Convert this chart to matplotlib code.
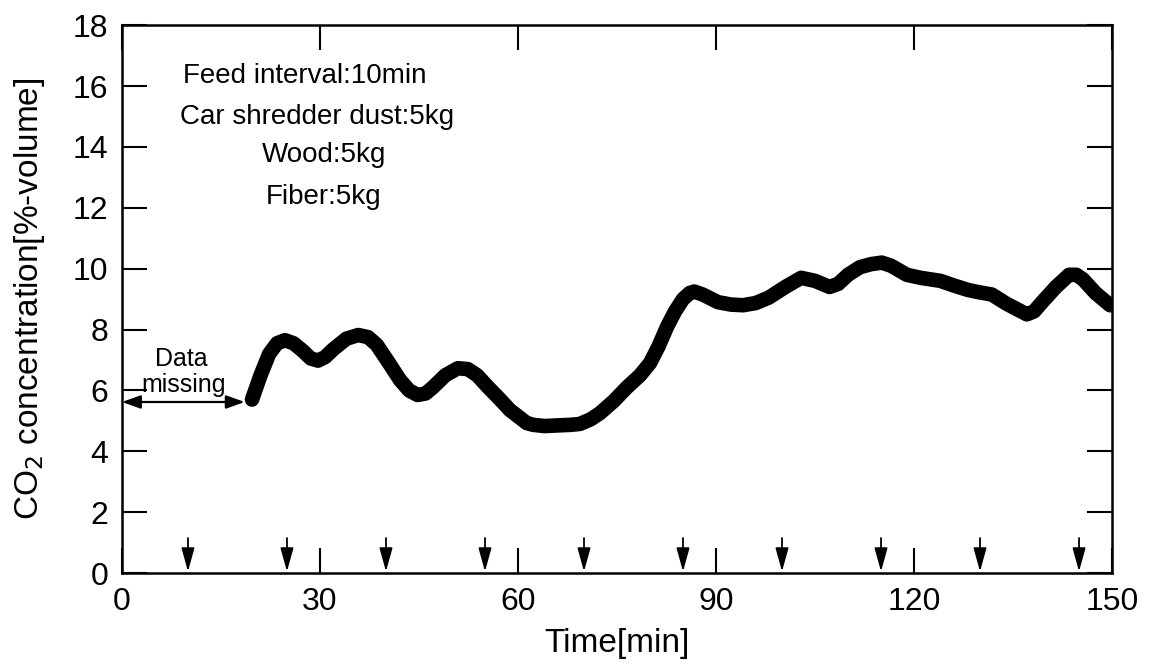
import matplotlib

matplotlib.use("Agg")
import matplotlib.pyplot as plt
import numpy as np

# CO2 concentration [min, %-volume]
time_min = [19.7, 21.0, 22.3, 23.5, 24.7, 26.0, 27.4, 28.6, 29.7, 30.8,
            32.0, 34.0, 35.8, 37.3, 38.6, 40.3, 42.1, 43.5, 44.8, 46.0,
            47.1, 49.0, 50.9, 52.4, 53.8, 55.5, 57.3, 58.8, 60.3, 61.3,
            62.3, 64.0, 66.0, 68.0, 69.4, 71.0, 72.4, 74.5, 76.5, 78.5,
            80.0, 81.3, 82.6, 83.8, 85.0, 86.0, 86.7, 88.0, 90.3, 92.3,
            94.1, 96.0, 98.0, 100.5, 102.9, 105.0, 107.2, 108.5, 110.0, 111.8,
            113.5, 115.1, 116.5, 118.9, 121.0, 124.0, 126.0, 128.2, 130.0, 131.8,
            134.0, 137.1, 138.2, 139.4, 141.5, 143.5, 144.6, 145.6, 147.5, 149.7]
co2 = [5.7, 6.5, 7.2, 7.55, 7.65, 7.55, 7.3, 7.05, 6.98, 7.1,
       7.35, 7.7, 7.82, 7.75, 7.5, 6.95, 6.35, 6.0, 5.85, 5.9,
       6.1, 6.5, 6.73, 6.7, 6.5, 6.1, 5.7, 5.35, 5.1, 4.93,
       4.87, 4.83, 4.85, 4.87, 4.9, 5.05, 5.25, 5.65, 6.1, 6.5,
       6.9, 7.45, 8.1, 8.6, 9.0, 9.2, 9.25, 9.15, 8.9, 8.82,
       8.8, 8.87, 9.05, 9.4, 9.7, 9.6, 9.4, 9.5, 9.8, 10.05,
       10.15, 10.2, 10.1, 9.8, 9.7, 9.6, 9.45, 9.3, 9.22, 9.15,
       8.85, 8.5, 8.6, 8.9, 9.4, 9.8, 9.8, 9.65, 9.2, 8.8]

# feed times marked by arrows
feed_times = [10, 25, 40, 55, 70, 85, 100, 115, 130, 145]

missing_start = 0
missing_end = 18.6
missing_level = 5.62

info_lines = ["Feed interval:10min", "Car shredder dust:5kg", "Wood:5kg", "Fiber:5kg"]

plt.rcParams["font.family"] = ["Liberation Sans", "DejaVu Sans"]

fig = plt.figure(figsize=(11.55, 6.64), dpi=100)
ax = fig.add_axes([0.1056, 0.137, 0.8572, 0.825])

ax.plot(time_min, co2, color="black", linewidth=10.5, solid_capstyle="round",
        solid_joinstyle="round")

for t in feed_times:
    ax.annotate("", xy=(t, 0.05), xytext=(t, 1.15),
                arrowprops=dict(arrowstyle="-|>,head_length=0.9,head_width=0.25",
                                color="black", lw=1.3, mutation_scale=16,
                                shrinkA=0, shrinkB=0))

ax.annotate("", xy=(missing_start, missing_level), xytext=(missing_end, missing_level),
            arrowprops=dict(arrowstyle="<|-|>,head_length=0.7,head_width=0.25",
                            color="black", lw=1.6, mutation_scale=16,
                            shrinkA=0, shrinkB=0))
ax.text(9.0, 6.8, "Data", ha="center", va="baseline", fontsize=18)
ax.text(9.4, 5.95, "missing", ha="center", va="baseline", fontsize=18)

ax.text(9.2, 16.33, info_lines[0], fontsize=20, va="center", ha="left")
ax.text(8.8, 15.0, info_lines[1], fontsize=20, va="center", ha="left")
ax.text(30.6, 13.73, info_lines[2], fontsize=20, va="center", ha="center")
ax.text(30.6, 12.35, info_lines[3], fontsize=20, va="center", ha="center")

ax.set_xlim(0, 150)
ax.set_ylim(0, 18)
ax.set_xticks([0, 30, 60, 90, 120, 150])
ax.set_yticks(np.arange(0, 19, 2))
ax.tick_params(direction="in", length=18, width=1.5, labelsize=23,
               top=True, right=True, pad=10)
for spine in ax.spines.values():
    spine.set_linewidth(1.8)

ax.set_xlabel("Time[min]", fontsize=24, labelpad=8)
ax.set_ylabel("CO$_2$ concentration[%-volume]", fontsize=24, labelpad=18)

fig.savefig("out.png", dpi=100)
